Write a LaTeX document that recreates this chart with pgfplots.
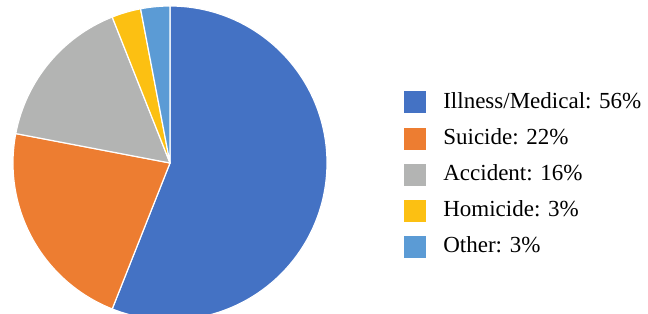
\documentclass[border=0pt]{standalone}
\usepackage{pgfplots}
\pgfplotsset{compat=1.18}
\usepackage{pgfplotstable}
\usepackage{fontspec}
\setmainfont{Liberation Serif}
\definecolor{ill}{HTML}{4472C4}
\definecolor{sui}{HTML}{ED7D31}
\definecolor{acc}{HTML}{B3B4B3}
\definecolor{hom}{HTML}{FCC012}
\definecolor{oth}{HTML}{5B9BD5}

\pgfplotstableread{
cause value color
Illness 56 ill
Suicide 22 sui
Accident 16 acc
Homicide 3 hom
Other 3 oth
}\piedata

\begin{document}
\begin{tikzpicture}
\path[use as bounding box] (0,0) rectangle (648bp,314bp);
\begin{axis}[
  at={(170bp,151bp)}, anchor=origin,
  x=157bp, y=157bp, xmin=-1, xmax=1, ymin=-1, ymax=1,
  hide axis, clip=false,
  legend style={draw=none, fill=none, at={(1.245,0.465)}, anchor=west,
    inner sep=0pt, outer sep=0pt,
    font=\fontsize{23bp}{27bp}\selectfont,
    row sep=13.2bp, column sep=18bp,
    nodes={inner sep=0pt, text height=18bp, text depth=5bp}},
  legend cell align=left,
]
\pgfplotstablegetrowsof{\piedata}
\pgfmathtruncatemacro\lastrow{\pgfplotsretval-1}
\def\cum{0}
\pgfplotsforeachungrouped \i in {0,...,\lastrow}{%
  \pgfplotstablegetelem{\i}{value}\of\piedata \let\val\pgfplotsretval
  \pgfplotstablegetelem{\i}{color}\of\piedata \let\col\pgfplotsretval
  \pgfmathsetmacro\angA{90-3.6*\cum}
  \pgfmathsetmacro\angB{90-3.6*(\cum+\val)}
  \edef\slice{\noexpand\fill[\col, draw=white, line width=1.2pt, line join=round] (axis cs:0,0) -- (axis cs:{cos(\angA)},{sin(\angA)}) arc[start angle=\angA, end angle=\angB, radius=157bp] -- cycle;}
  \slice
  \pgfmathsetmacro\cum{\cum+\val}
}
\addlegendimage{legend image code/.code={\fill[ill] (0bp,-11bp) rectangle (21bp,10bp);}}
\addlegendentry{Illness/Medical: 56\%}
\addlegendimage{legend image code/.code={\fill[sui] (0bp,-11bp) rectangle (21bp,10bp);}}
\addlegendentry{Suicide: 22\%}
\addlegendimage{legend image code/.code={\fill[acc] (0bp,-11bp) rectangle (21bp,10bp);}}
\addlegendentry{Accident: 16\%}
\addlegendimage{legend image code/.code={\fill[hom] (0bp,-11bp) rectangle (21bp,10bp);}}
\addlegendentry{Homicide: 3\%}
\addlegendimage{legend image code/.code={\fill[oth] (0bp,-11bp) rectangle (21bp,10bp);}}
\addlegendentry{Other: 3\%}
\end{axis}
\end{tikzpicture}
\end{document}
